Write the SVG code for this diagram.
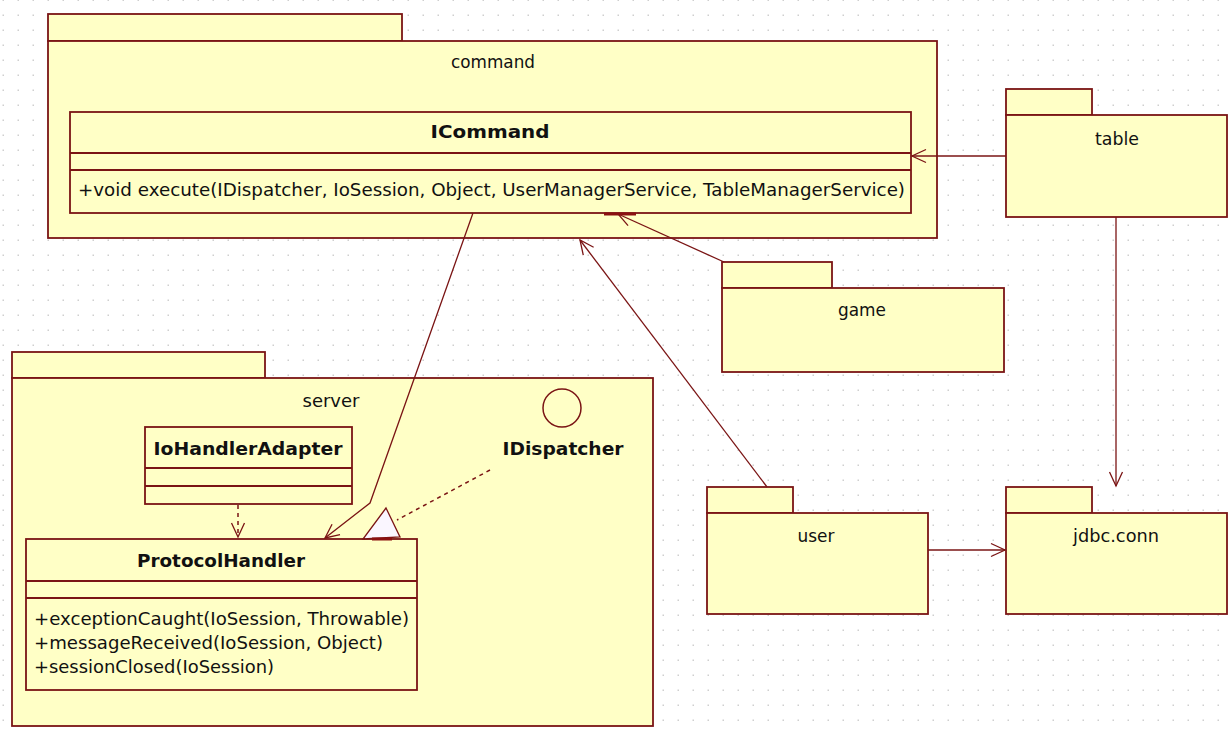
<svg xmlns="http://www.w3.org/2000/svg" width="1229" height="731" viewBox="0 0 1229 731">
<style>
.pk{fill:#ffffc6;stroke:#7a1414;stroke-width:1.8}
.cl{fill:#ffffc6;stroke:#7a1414;stroke-width:1.8}
.dv{stroke:#7a1414;stroke-width:1.8;fill:none}
.cn{stroke:#7a1414;stroke-width:1.3;fill:none}
.ds{stroke:#7a1414;stroke-width:1.5;fill:none;stroke-dasharray:4 4}
.t{font-family:"DejaVu Sans","Liberation Sans",sans-serif;font-size:17px;fill:#111}
.m{font-family:"DejaVu Sans","Liberation Sans",sans-serif;font-size:18px;fill:#111}
.b{font-family:"DejaVu Sans","Liberation Sans",sans-serif;font-size:18px;font-weight:bold;fill:#111}
</style>
<defs>
<pattern id="grid" x="0" y="0" width="15" height="15" patternUnits="userSpaceOnUse">
<rect x="2.5" y="-0.5" width="1.5" height="1.5" fill="#cfcfcf"/>
<rect x="2.5" y="14.5" width="1.5" height="1.5" fill="#cfcfcf"/>
</pattern>
<marker id="open" markerUnits="userSpaceOnUse" markerWidth="18" markerHeight="16" viewBox="0 0 18 16" refX="16" refY="8" orient="auto">
<path d="M2,1.5 L16,8 L2,14.5" fill="none" stroke="#7a1414" stroke-width="1.3"/>
</marker>
</defs>
<rect width="1229" height="731" fill="#ffffff"/>
<rect width="1229" height="731" fill="url(#grid)"/>

<g id="command">
<rect class="pk" x="48" y="14" width="354" height="27"/>
<rect class="pk" x="48" y="41" width="889" height="197"/>
<text class="t" x="493" y="68" text-anchor="middle" textLength="84" lengthAdjust="spacingAndGlyphs">command</text>
</g>

<g id="ICommand">
<rect class="cl" x="70" y="112" width="841" height="101"/>
<line class="dv" x1="70" y1="153" x2="911" y2="153"/>
<line class="dv" x1="70" y1="170" x2="911" y2="170"/>
<text class="b" x="490" y="138" text-anchor="middle" textLength="119" lengthAdjust="spacingAndGlyphs">ICommand</text>
<text class="m" x="78" y="196" textLength="827" lengthAdjust="spacingAndGlyphs">+void execute(IDispatcher, IoSession, Object, UserManagerService, TableManagerService)</text>
</g>

<g id="table">
<rect class="pk" x="1006" y="89" width="86" height="26"/>
<rect class="pk" x="1006" y="115" width="221" height="102"/>
<text class="t" x="1117" y="145" text-anchor="middle" textLength="44" lengthAdjust="spacingAndGlyphs">table</text>
</g>

<g id="game">
<rect class="pk" x="722" y="262" width="110" height="26"/>
<rect class="pk" x="722" y="288" width="282" height="84"/>
<text class="t" x="862" y="316" text-anchor="middle" textLength="48" lengthAdjust="spacingAndGlyphs">game</text>
</g>

<g id="user">
<rect class="pk" x="707" y="487" width="86" height="26"/>
<rect class="pk" x="707" y="513" width="221" height="101"/>
<text class="t" x="816" y="542" text-anchor="middle" textLength="37" lengthAdjust="spacingAndGlyphs">user</text>
</g>

<g id="jdbc.conn">
<rect class="pk" x="1006" y="487" width="86" height="26"/>
<rect class="pk" x="1006" y="513" width="221" height="101"/>
<text class="t" x="1116" y="542" text-anchor="middle" textLength="86" lengthAdjust="spacingAndGlyphs">jdbc.conn</text>
</g>

<g id="server">
<rect class="pk" x="12" y="352" width="253" height="26"/>
<rect class="pk" x="12" y="378" width="641" height="348"/>
<text class="t" x="331" y="407" text-anchor="middle" textLength="57" lengthAdjust="spacingAndGlyphs">server</text>
</g>

<g id="IoHandlerAdapter">
<rect class="cl" x="145" y="427" width="207" height="77"/>
<line class="dv" x1="145" y1="468" x2="352" y2="468"/>
<line class="dv" x1="145" y1="486" x2="352" y2="486"/>
<text class="b" x="248" y="455" text-anchor="middle" textLength="189" lengthAdjust="spacingAndGlyphs">IoHandlerAdapter</text>
</g>

<g id="IDispatcher">
<circle cx="562" cy="408" r="19" fill="#ffffc6" stroke="#7a1414" stroke-width="1.5"/>
<text class="b" x="563" y="455" text-anchor="middle" textLength="121" lengthAdjust="spacingAndGlyphs">IDispatcher</text>
</g>

<g id="ProtocolHandler">
<rect class="cl" x="26" y="539" width="391" height="151"/>
<line class="dv" x1="26" y1="581" x2="417" y2="581"/>
<line class="dv" x1="26" y1="598" x2="417" y2="598"/>
<text class="b" x="221" y="567" text-anchor="middle" textLength="168" lengthAdjust="spacingAndGlyphs">ProtocolHandler</text>
<text class="m" x="34" y="625" textLength="375" lengthAdjust="spacingAndGlyphs">+exceptionCaught(IoSession, Throwable)</text>
<text class="m" x="34" y="649" textLength="349" lengthAdjust="spacingAndGlyphs">+messageReceived(IoSession, Object)</text>
<text class="m" x="34" y="673" textLength="240" lengthAdjust="spacingAndGlyphs">+sessionClosed(IoSession)</text>
</g>

<g id="connectors">
<line class="cn" x1="1006" y1="156" x2="912" y2="156" marker-end="url(#open)"/>
<line class="cn" x1="724" y1="262" x2="618" y2="214" marker-end="url(#open)"/>
<line class="cn" x1="767" y1="487" x2="580" y2="240" marker-end="url(#open)"/>
<line class="cn" x1="1116" y1="217" x2="1116" y2="486" marker-end="url(#open)"/>
<line class="cn" x1="928" y1="550" x2="1005" y2="550" marker-end="url(#open)"/>
<polyline class="cn" points="473,213 370,503 325,538" marker-end="url(#open)"/>
<line class="ds" x1="238" y1="505" x2="238" y2="537" marker-end="url(#open)"/>
<line class="ds" x1="490" y1="470" x2="397" y2="520"/>
<polygon points="386,508 363,539 400,537" fill="#faf6ff" stroke="#7a1414" stroke-width="1.3"/>
<line x1="604" y1="214" x2="636" y2="214" stroke="#8a1010" stroke-width="3"/>
<line x1="372" y1="539" x2="392" y2="539" stroke="#8a1010" stroke-width="3"/>
</g>
</svg>
